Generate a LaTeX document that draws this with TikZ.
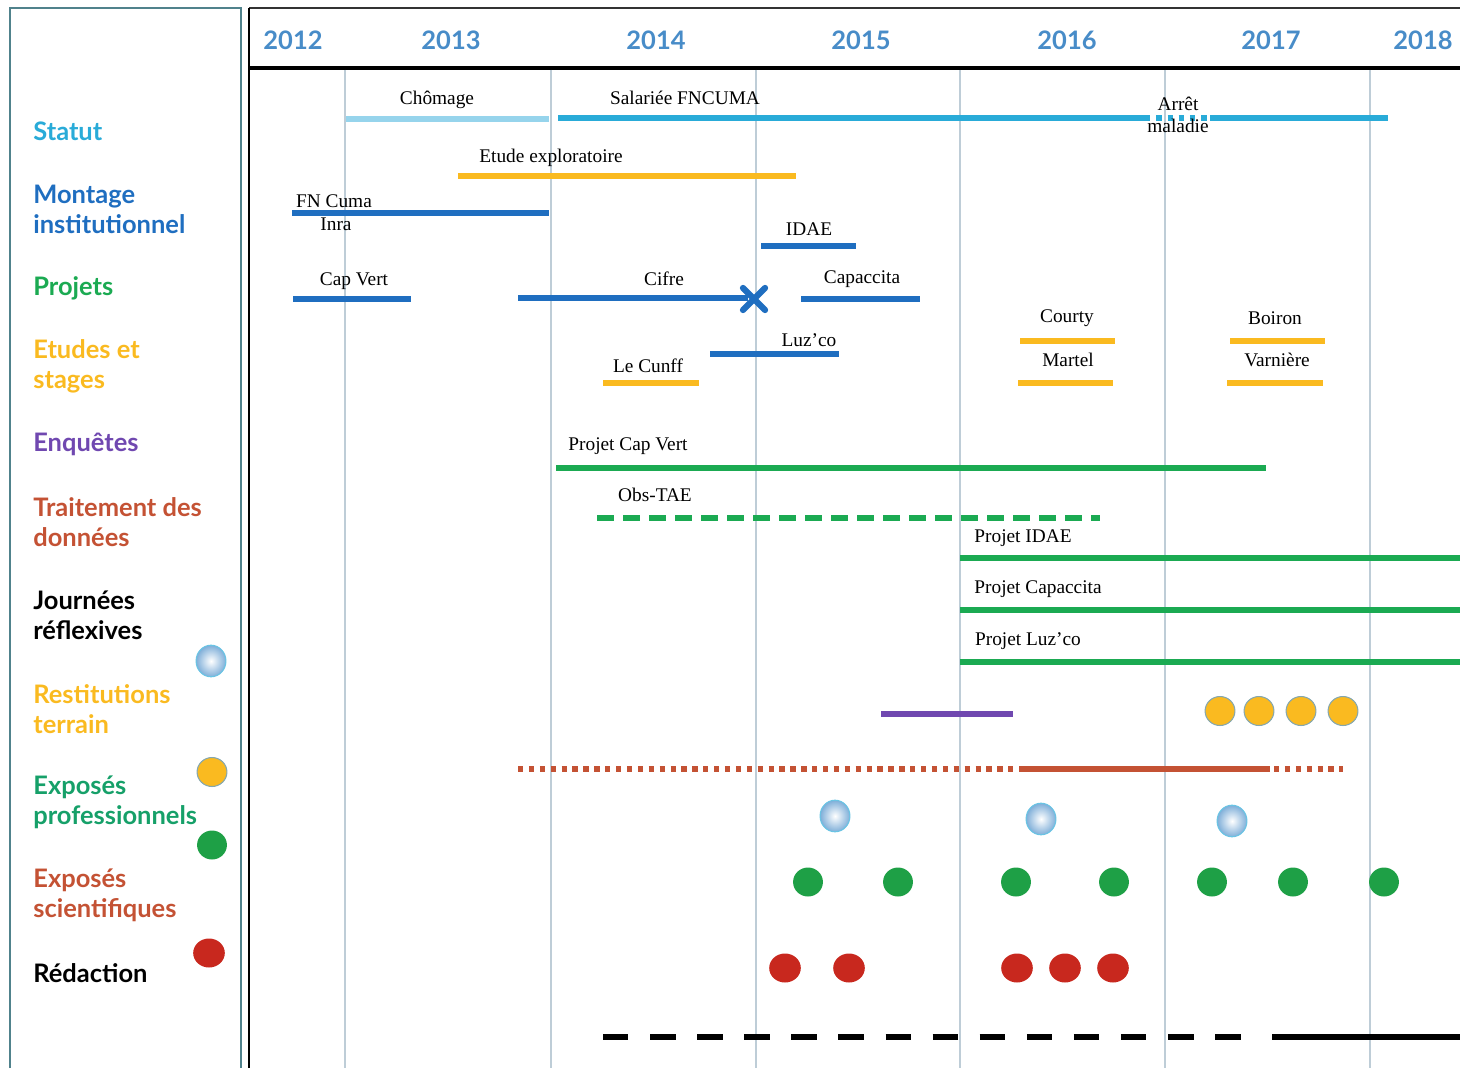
\documentclass[tikz,border=0pt]{standalone}
\usepackage{fontspec}
\setmainfont{Liberation Serif}
\setsansfont{Lato}
\usepackage{tikz}
\usetikzlibrary{arrows.meta, positioning, shapes.geometric}
\usepackage{xcolor}

\definecolor{statcyan}{RGB}{41,171,216}
\definecolor{chomcyan}{RGB}{150,212,236}
\definecolor{instblue}{RGB}{31,110,192}
\definecolor{projgreen}{RGB}{27,170,82}
\definecolor{progreen}{RGB}{22,160,105}
\definecolor{etudorange}{RGB}{250,186,32}
\definecolor{enqpurple}{RGB}{112,72,176}
\definecolor{traitred}{RGB}{196,82,52}
\definecolor{ballred}{RGB}{200,40,30}
\definecolor{ballgreen}{RGB}{30,160,70}
\definecolor{yearblue}{RGB}{72,140,200}
\definecolor{gridgrey}{RGB}{190,205,215}
\definecolor{frameteal}{RGB}{80,130,140}

\begin{document}
\begin{tikzpicture}[x=0.02cm, y=-0.02cm,
    bar/.style={line width=3.2pt},
    lab/.style={inner sep=0pt, font=\fontsize{11}{12}\selectfont},
    cat/.style={anchor=west, inner sep=0pt, align=left,
        font=\sffamily\bfseries\fontsize{14.5}{17}\selectfont},
    year/.style={inner sep=0pt, text=yearblue,
        font=\sffamily\bfseries\fontsize{14.5}{17}\selectfont},
    refl/.style={ellipse, minimum width=17pt, minimum height=18pt, inner sep=0pt,
        draw=statcyan!70, line width=0.6pt, inner color=white, outer color=yearblue!70},
    resti/.style={ellipse, minimum width=17pt, minimum height=16.5pt, inner sep=0pt,
        fill=etudorange, draw=frameteal!70, line width=0.6pt},
    expro/.style={ellipse, minimum width=17pt, minimum height=16.5pt, inner sep=0pt,
        fill=ballgreen},
    exsci/.style={ellipse, minimum width=18pt, minimum height=16.5pt, inner sep=0pt,
        fill=ballred}]
\useasboundingbox (0,0) rectangle (1460,1068);

% frames
\draw[frameteal, line width=1.2pt] (10,1068) -- (10,8) -- (241,8) -- (241,1068);
\draw[black!80, line width=1pt] (249,8) -- (1460,8);
\draw[black, line width=1.3pt] (249,8) -- (249,1068);
\draw[black, line width=2.3pt] (249,68) -- (1460,68);
\foreach \gx in {345,551,756,960,1165,1370}
    \draw[gridgrey, line width=0.6pt] (\gx,70) -- (\gx,1068);

% years
\foreach \yx/\yr in {293/2012,451/2013,656/2014,861/2015,1067/2016,1271/2017,1423/2018}
    \node[year] (y\yr) at (\yx,40) {\yr};

% categories
\node[cat, text=statcyan] (statut) at (33,131) {Statut};
\node[cat, text=instblue] (montage) at (33,209) {Montage\\institutionnel};
\node[cat, text=projgreen] (projets) at (33,288) {Projets};
\node[cat, text=etudorange] (etudes) at (33,366) {Etudes et\\stages};
\node[cat, text=enqpurple] (enquetes) at (33,444) {Enquêtes};
\node[cat, text=traitred] (traitement) at (33,522) {Traitement des\\données};
\node[cat, text=black] (journees) at (33,615) {Journées\\réflexives};
\node[cat, text=etudorange] (restitutions) at (33,709) {Restitutions\\terrain};
\node[cat, text=progreen] (expopro) at (33,802) {Exposés\\professionnels};
\node[cat, text=traitred] (exposci) at (33,895) {Exposés\\scientifiques};
\node[cat, text=black] (redaction) at (33,973) {Rédaction};

% legend
\node[refl] (legrefl) at (211,661) {};
\node[resti] (legresti) at (212,772) {};
\node[expro] (legpro) at (212,845) {};
\node[exsci] (legsci) at (209,953) {};

% statut
\draw[bar, chomcyan] (346,119) -- (549,119);
\node[lab] (chomage) at (437,100) {Chômage};
\draw[bar, statcyan] (558,118) -- (1145,118);
\draw[bar, statcyan, dash pattern=on 3pt off 3.4pt] (1145,118) -- (1210,118);
\draw[bar, statcyan] (1210,118) -- (1388,118);
\node[lab] (salariee) at (685,98) {Salariée FNCUMA};
\node[lab, align=center, font=\fontsize{11}{12.5}\selectfont] (arret) at (1178,115) {Arrêt\\maladie};

% montage institutionnel
\draw[bar, etudorange] (458,176) -- (796,176);
\node[lab] (etude) at (551,158) {Etude exploratoire};
\draw[bar, instblue] (292,213) -- (549,213);
\node[lab] (fncuma) at (334,201) {FN Cuma};
\node[lab] (inra) at (336,224) {Inra};
\draw[bar, instblue] (761,246) -- (856,246);
\node[lab] (idae) at (809,229) {IDAE};

% projets
\draw[bar, instblue] (293,299) -- (411,299);
\node[lab] (capvert) at (354,281) {Cap Vert};
\draw[bar, instblue] (518,298) -- (748,298);
\node[lab] (cifre) at (664,279) {Cifre};
\draw[instblue, line width=3.6pt, line cap=round] (743,288) -- (765,310) (743,310) -- (765,288);
\draw[bar, instblue] (801,299) -- (920,299);
\node[lab] (capaccita) at (862,279) {Capaccita};
\draw[bar, instblue] (710,354) -- (839,354);
\node[lab] (luzco) at (809,340) {Luz'co};

% etudes et stages
\draw[bar, etudorange] (603,383) -- (699,383);
\node[lab] (lecunff) at (648,366) {Le Cunff};
\draw[bar, etudorange] (1020,341) -- (1115,341);
\node[lab] (courty) at (1067,318) {Courty};
\draw[bar, etudorange] (1018,383) -- (1113,383);
\node[lab] (martel) at (1068,360) {Martel};
\draw[bar, etudorange] (1230,341) -- (1325,341);
\node[lab] (boiron) at (1275,318) {Boiron};
\draw[bar, etudorange] (1227,383) -- (1323,383);
\node[lab] (varniere) at (1277,360) {Varnière};

% projets de recherche
\draw[bar, projgreen] (556,468) -- (1266,468);
\node[lab] (pcapvert) at (628,446) {Projet Cap Vert};
\draw[bar, projgreen, dash pattern=on 9.7pt off 5.1pt] (597,518) -- (1100,518);
\node[lab] (obstae) at (655,495) {Obs-TAE};
\draw[bar, projgreen] (960,558) -- (1460,558);
\node[lab] (pidae) at (1023,538) {Projet IDAE};
\draw[bar, projgreen] (960,610) -- (1460,610);
\node[lab] (pcapaccita) at (1038,589) {Projet Capaccita};
\draw[bar, projgreen] (960,662) -- (1460,662);
\node[lab] (pluzco) at (1028,641) {Projet Luz'co};

% enquetes, restitutions
\draw[bar, enqpurple] (881,714) -- (1013,714);
\foreach \rx [count=\i] in {1220,1259,1301,1343}
    \node[resti] (resti\i) at (\rx,711) {};

% traitement
\draw[bar, traitred, dash pattern=on 3pt off 3.2pt] (518,769) -- (1020,769);
\draw[bar, traitred] (1020,769) -- (1270,769);
\draw[bar, traitred, dash pattern=on 3pt off 3.2pt] (1274,769) -- (1343,769);

% journees, exposes
\foreach \jx/\jy [count=\i] in {835/816,1041/819,1232/821}
    \node[refl] (refl\i) at (\jx,\jy) {};
\foreach \px [count=\i] in {808,898,1016,1114,1212,1293,1384}
    \node[expro] (pro\i) at (\px,882) {};
\foreach \sx [count=\i] in {785,849,1017,1065,1113}
    \node[exsci] (sci\i) at (\sx,968) {};

% redaction
\draw[black, line width=3.6pt, dash pattern=on 14.5pt off 12.3pt] (603,1037) -- (1250,1037);
\draw[black, line width=3.6pt] (1272,1037) -- (1460,1037);
\end{tikzpicture}
\end{document}
